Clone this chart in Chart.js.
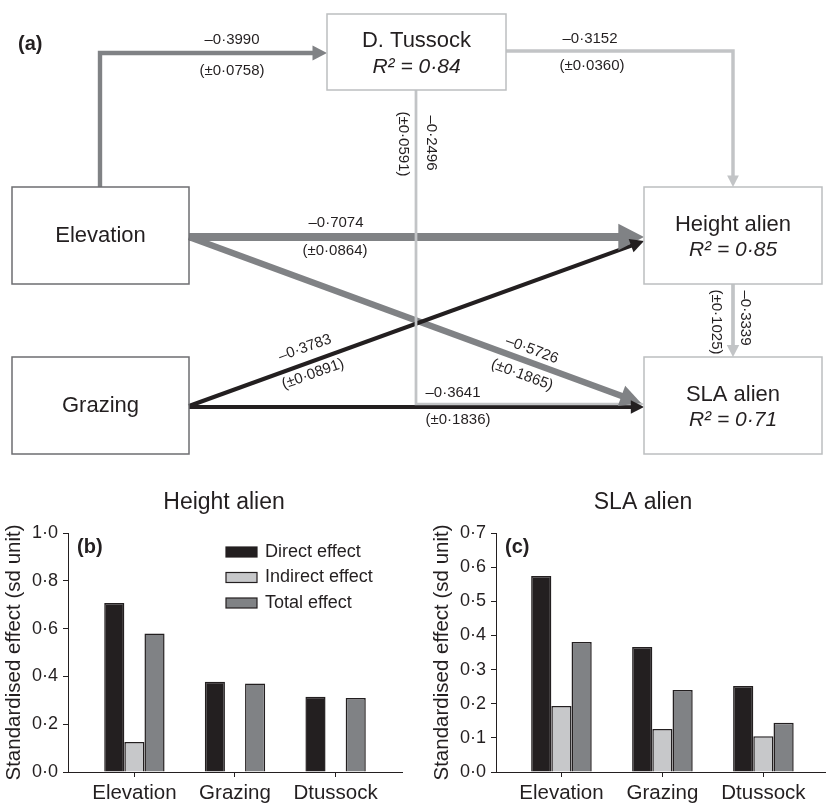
<!DOCTYPE html>
<html>
<head>
<meta charset="utf-8">
<script src="https://cdn.jsdelivr.net/npm/chart.js@4"></script>
<style>
html, body { margin: 0; padding: 0; background: #fff; }
#wrap { position: relative; width: 826px; height: 803px; overflow: hidden; }
canvas { position: absolute; }
</style>
</head>
<body>
<div id="wrap">
  <canvas id="pathChart" width="826" height="470" style="left:0;top:0"></canvas>
  <canvas id="heightChart" width="410" height="333" style="left:0;top:470px"></canvas>
  <canvas id="slaChart" width="416" height="333" style="left:410px;top:470px"></canvas>
</div>
<script>
// bar charts (b) and (c)
const categories = ["Elevation", "Grazing", "Dtussock"];
const seriesNames = ["Direct effect", "Indirect effect", "Total effect"];
const heightDirect = [0.707, 0.378, 0.315];
const heightIndirect = [0.126, null, null];
const heightTotal = [0.58, 0.37, 0.31];
const slaDirect = [0.574, 0.366, 0.252];
const slaIndirect = [0.193, 0.126, 0.105];
const slaTotal = [0.381, 0.240, 0.144];

// path model (a)
const nodeNames = ["Elevation", "Grazing", "Tussock", "Height", "SLA"];
const nodeLabels = ["Elevation", "Grazing", "D. Tussock", "Height alien", "SLA alien"];
const nodeR2 = [null, null, 0.84, 0.85, 0.71];
const pathFrom = ["Elevation", "Tussock", "Tussock", "Elevation", "Elevation", "Grazing", "Grazing", "Height"];
const pathTo = ["Tussock", "Height", "SLA", "Height", "SLA", "Height", "SLA", "SLA"];
const pathCoef = [-0.3990, -0.3152, -0.2496, -0.7074, -0.5726, -0.3783, -0.3641, -0.3339];
const pathSE = [0.0758, 0.0360, 0.0591, 0.0864, 0.1865, 0.0891, 0.1836, 0.1025];

const ink = "#231f20";
const seriesColors = [ink, "#c7c8ca", "#808285"];
const sourceColors = { Elevation: "#808285", Grazing: ink, Tussock: "#c2c4c6", Height: "#c2c4c6" };
Chart.defaults.font.family = "'Liberation Sans', Arial, sans-serif";
Chart.defaults.color = ink;

function dot(v, d) { return v.toFixed(d).replace(".", "·"); }

// ---- diagram layout (pixels of the diagram canvas) ----
const boxes = {
  Elevation: { x: 12, y: 187, w: 177, h: 97, line: "#6d6e71" },
  Grazing:   { x: 12, y: 357, w: 177, h: 97, line: "#6d6e71" },
  Tussock:   { x: 327, y: 14, w: 179, h: 76, line: "#bcbec0" },
  Height:    { x: 644, y: 187, w: 178, h: 97, line: "#bcbec0" },
  SLA:       { x: 644, y: 357, w: 178, h: 97, line: "#bcbec0" }
};
const routes = [
  [[100, 187], [100, 53], [327, 53]],
  [[506, 51], [733, 51], [733, 187]],
  [[416, 90], [416, 404], [644, 404]],
  [[189, 237], [644, 237]],
  [[189, 237], [641, 403]],
  [[189, 406], [644, 241]],
  [[189, 407], [644, 407]],
  [[733, 284], [733, 357]]
];
// [coefX, coefY, seX, seY, angle]
const labelPos = [
  [232, 40, 232, 71, 0],
  [590, 39, 592, 66, 0],
  [431, 143, 403, 144, 90],
  [336, 223, 335, 251, 0],
  [532, 350, 522, 375, 20.4],
  [305, 348, 313, 374, -19.7],
  [453, 393, 458, 420, 0],
  [745, 318, 716, 322, 90]
];
const drawRank = [4, 3, 0, 7, 6, 5, 6, 2];

function edgeWidth(i) { return 11 * Math.abs(pathCoef[i]); }

const edgeSets = routes.map((pts, i) => {
  const w = edgeWidth(i);
  const len = 3.3 * w;
  const p = pts.map(q => ({ x: q[0], y: q[1] }));
  const a = p[p.length - 2], b = p[p.length - 1];
  const d = Math.hypot(b.x - a.x, b.y - a.y);
  p[p.length - 1] = { x: b.x - (b.x - a.x) * (len - 1) / d, y: b.y - (b.y - a.y) * (len - 1) / d };
  return {
    data: p,
    showLine: true,
    borderColor: sourceColors[pathFrom[i]],
    borderWidth: w,
    pointRadius: 0,
    borderJoinStyle: "miter",
    borderCapStyle: "butt",
    tension: 0,
    order: drawRank[i]
  };
});

const diagramPlugin = {
  id: "diagram",
  afterDatasetsDraw(chart) {
    const ctx = chart.ctx;
    const X = v => chart.scales.x.getPixelForValue(v);
    const Y = v => chart.scales.y.getPixelForValue(v);
    // arrow heads
    routes.forEach((pts, i) => {
      const w = edgeWidth(i);
      const a = pts[pts.length - 2], b = pts[pts.length - 1];
      const ang = Math.atan2(Y(b[1]) - Y(a[1]), X(b[0]) - X(a[0]));
      ctx.save();
      ctx.translate(X(b[0]), Y(b[1]));
      ctx.rotate(ang);
      ctx.beginPath();
      ctx.moveTo(0, 0);
      ctx.lineTo(-3.3 * w, -1.7 * w);
      ctx.lineTo(-3.3 * w, 1.7 * w);
      ctx.closePath();
      ctx.fillStyle = sourceColors[pathFrom[i]];
      ctx.fill();
      ctx.restore();
    });
    // boxes
    nodeNames.forEach((n, k) => {
      const bx = boxes[n];
      ctx.save();
      ctx.strokeStyle = bx.line;
      ctx.lineWidth = 1.5;
      ctx.strokeRect(X(bx.x), Y(bx.y), bx.w, bx.h);
      ctx.fillStyle = ink;
      ctx.textAlign = "center";
      ctx.textBaseline = "middle";
      const cx = X(bx.x + bx.w / 2), cy = Y(bx.y + bx.h / 2);
      if (nodeR2[k] === null) {
        ctx.font = "22px 'Liberation Sans', Arial, sans-serif";
        ctx.fillText(nodeLabels[k], cx, cy);
      } else {
        ctx.font = "22px 'Liberation Sans', Arial, sans-serif";
        ctx.fillText(nodeLabels[k], cx, cy - 11);
        ctx.font = "italic 21px 'Liberation Sans', Arial, sans-serif";
        ctx.fillText("R² = " + dot(nodeR2[k], 2), cx, cy + 15);
      }
      ctx.restore();
    });
    // coefficient labels
    ctx.save();
    ctx.fillStyle = ink;
    ctx.textAlign = "center";
    ctx.textBaseline = "middle";
    ctx.font = "15px 'Liberation Sans', Arial, sans-serif";
    labelPos.forEach((lp, i) => {
      const texts = ["–" + dot(Math.abs(pathCoef[i]), 4), "(±" + dot(pathSE[i], 4) + ")"];
      [[lp[0], lp[1]], [lp[2], lp[3]]].forEach((pos, j) => {
        ctx.save();
        ctx.translate(X(pos[0]), Y(pos[1]));
        ctx.rotate(lp[4] * Math.PI / 180);
        ctx.fillText(texts[j], 0, 0);
        ctx.restore();
      });
    });
    ctx.font = "bold 20px 'Liberation Sans', Arial, sans-serif";
    ctx.textAlign = "left";
    ctx.fillText("(a)", X(18), Y(44));
    ctx.restore();
  }
};

new Chart(document.getElementById("pathChart"), {
  type: "scatter",
  data: { datasets: edgeSets },
  options: {
    responsive: false,
    animation: false,
    layout: { padding: 0 },
    scales: {
      x: { type: "linear", min: 0, max: 826, display: false },
      y: { type: "linear", min: 0, max: 470, reverse: true, display: false }
    },
    plugins: { legend: { display: false }, tooltip: { enabled: false } }
  },
  plugins: [diagramPlugin]
});

// ---- bar charts ----
function makeBars(id, opts) {
  const values = [opts.direct, opts.indirect, opts.total];
  const panelPlugin = {
    id: "panel" + id,
    afterDraw(chart) {
      const ctx = chart.ctx;
      const a = chart.chartArea;
      ctx.save();
      ctx.fillStyle = ink;
      ctx.textBaseline = "middle";
      ctx.textAlign = "center";
      ctx.font = "23px 'Liberation Sans', Arial, sans-serif";
      ctx.fillText(opts.title, a.left + opts.titleDx, 33);
      ctx.textAlign = "left";
      ctx.font = "bold 20px 'Liberation Sans', Arial, sans-serif";
      ctx.fillText(opts.tag, a.left + 9, a.top + 14);
      if (opts.legend) {
        ctx.font = "18px 'Liberation Sans', Arial, sans-serif";
        seriesNames.forEach((name, k) => {
          const y = a.top + 19 + k * 25.5;
          ctx.fillStyle = seriesColors[k];
          ctx.fillRect(a.left + 158, y - 5, 31, 10);
          ctx.strokeStyle = ink;
          ctx.lineWidth = 1.2;
          ctx.strokeRect(a.left + 158, y - 5, 31, 10);
          ctx.fillStyle = ink;
          ctx.fillText(name, a.left + 197, y);
        });
      }
      ctx.restore();
    }
  };
  return new Chart(document.getElementById(id), {
    type: "bar",
    data: {
      datasets: seriesNames.map((name, k) => ({
        label: name,
        data: values[k].map((v, i) => ({ x: i + 1, y: v })),
        backgroundColor: seriesColors[k],
        borderColor: ink,
        borderWidth: 1.5,
        borderSkipped: "bottom",
        categoryPercentage: 0.6,
        barPercentage: 1
      }))
    },
    options: {
      responsive: false,
      animation: false,
      layout: { padding: { top: 63, right: opts.rightPad, left: 0, bottom: 0 } },
      scales: {
        x: {
          type: "linear",
          offset: false,
          min: opts.xMin,
          max: opts.xMax,
          afterBuildTicks: s => { s.ticks = categories.map((c, i) => ({ value: i + 1 })); },
          afterFit: s => { s.height = 31; },
          ticks: {
            autoSkip: false, maxRotation: 0, minRotation: 0, padding: 4,
            font: { size: 20.5 }, color: ink,
            callback: v => categories[v - 1]
          },
          grid: { offset: false, drawOnChartArea: false, drawTicks: true, tickLength: 5, color: ink },
          border: { display: true, color: ink, width: 1 }
        },
        y: {
          min: 0,
          max: opts.yMax,
          afterFit: s => { s.width = opts.yWidth; },
          ticks: { stepSize: opts.yStep, padding: 5, font: { size: 18 }, color: ink, callback: v => dot(v, 1) },
          grid: { drawOnChartArea: false, drawTicks: true, tickLength: 5, color: ink },
          border: { display: true, color: ink, width: 1 },
          title: {
            display: true,
            text: "Standardised effect (sd unit)",
            font: { size: 20.5 },
            color: ink,
            padding: { top: opts.yTitlePad, bottom: 0 }
          }
        }
      },
      plugins: { legend: { display: false }, tooltip: { enabled: false }, title: { display: false } }
    },
    plugins: [panelPlugin]
  });
}

makeBars("heightChart", {
  direct: heightDirect, indirect: heightIndirect, total: heightTotal,
  title: "Height alien", tag: "(b)", legend: true, titleDx: 156,
  yMax: 1.0, yStep: 0.2, xMin: 0.34, xMax: 3.66,
  yWidth: 68, yTitlePad: 2, rightPad: 8
});
makeBars("slaChart", {
  direct: slaDirect, indirect: slaIndirect, total: slaTotal,
  title: "SLA alien", tag: "(c)", legend: false, titleDx: 147,
  yMax: 0.7, yStep: 0.1, xMin: 0.352, xMax: 3.62,
  yWidth: 86, yTitlePad: 20, rightPad: 0
});
</script>
</body>
</html>
